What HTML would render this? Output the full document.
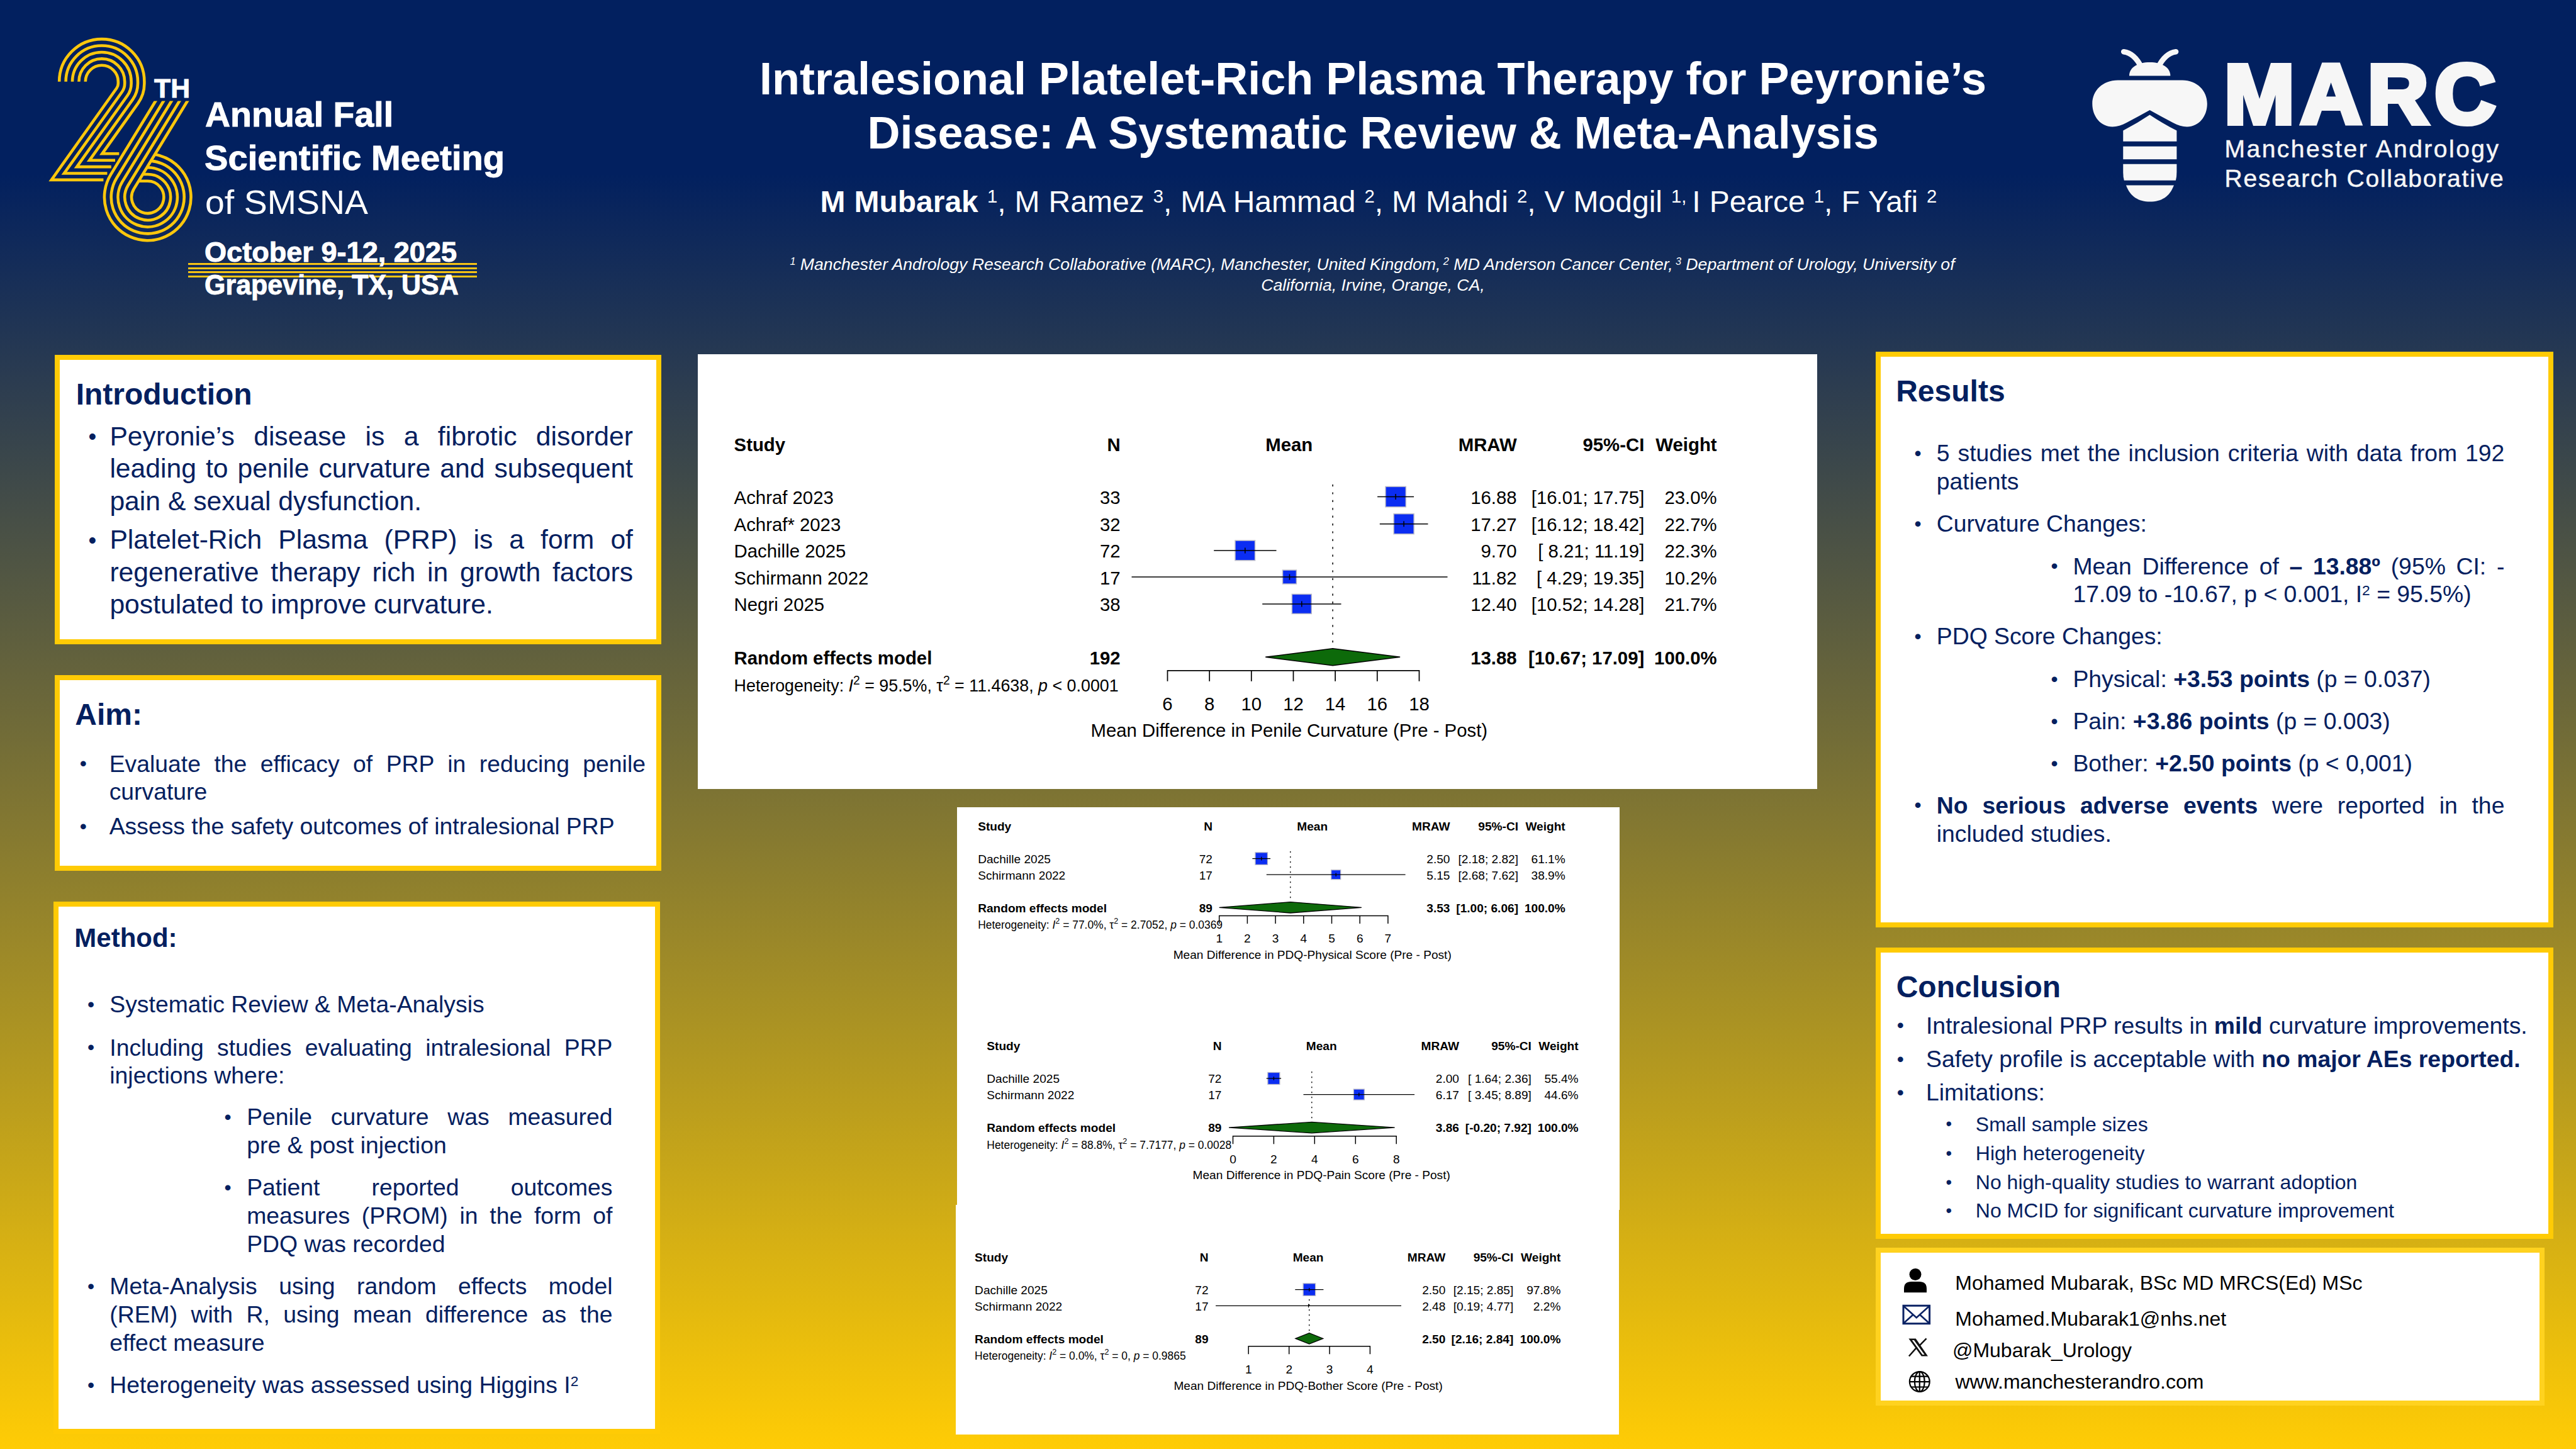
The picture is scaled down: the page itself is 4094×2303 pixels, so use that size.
<!DOCTYPE html>
<html lang="en"><head><meta charset="utf-8"><title>Intralesional Platelet-Rich Plasma Therapy for Peyronie’s Disease</title>
<style>
html,body{margin:0;padding:0;background:#02205f}
body{width:4094px;height:2303px;position:relative;overflow:hidden;font-family:"Liberation Sans",Arial,Helvetica,sans-serif}
.bg{position:absolute;left:0;top:0;width:4094px;height:2303px;background:linear-gradient(to bottom,#02205f 0px,#02205f 275px,#ffcc05 2303px)}
.t{position:absolute;white-space:nowrap;margin:0}
.sup{font-size:61%;position:relative;top:-0.5em;line-height:0;white-space:pre}
b{font-weight:700}
</style></head>
<body>
<div class="bg"></div>
<div style="position:absolute;left:87px;top:564px;width:948px;height:444px;border:8px solid #ffcb05;background:#fff"></div>
<div style="position:absolute;left:87px;top:1072.5px;width:948px;height:295px;border:8px solid #ffcb05;background:#fff"></div>
<div style="position:absolute;left:85px;top:1433px;width:948px;height:830px;border:8px solid #ffcb05;background:#fff"></div>
<div style="position:absolute;left:1109px;top:563px;width:1779px;height:691px;background:#fff"></div>
<div style="position:absolute;left:1520.5px;top:1282.5px;width:1053px;height:640px;background:#fff"></div>
<div style="position:absolute;left:1519px;top:1915px;width:1054px;height:365px;background:#fff"></div>
<div style="position:absolute;left:2981px;top:558.5px;width:1061px;height:899px;border:8px solid #ffcb05;background:#fff"></div>
<div style="position:absolute;left:2981px;top:1506px;width:1061px;height:447px;border:8px solid #ffcb05;background:#fff"></div>
<div style="position:absolute;left:2981px;top:1983px;width:1047px;height:235px;border:8px solid #ffd21f;background:#fff"></div>
<svg style="position:absolute;left:0;top:0" width="420" height="420" viewBox="0 0 420 420"><defs><clipPath id="c26"><rect x="0" y="0" width="420" height="129.6"/><rect x="0" y="129.6" width="240" height="32"/><rect x="0" y="160.4" width="420" height="260"/></clipPath></defs><g fill="none" stroke="#fdc70c" stroke-width="4.6" stroke-linejoin="miter" stroke-miterlimit="10" clip-path="url(#c26)"><path d="M135.80,129.75 A26.00,26.00 0 0 1 187.80,129.75 V132.75 A12.50,12.50 0 0 1 185.49,139.99 L81.80,285.90 L164.40,285.90"/><path d="M125.40,129.75 A36.40,36.40 0 0 1 198.20,129.75 V132.75 A22.90,22.90 0 0 1 193.97,146.02 L101.95,275.50 L170.40,275.50"/><path d="M115.00,129.75 A46.80,46.80 0 0 1 208.60,129.75 V132.75 A33.30,33.30 0 0 1 202.44,152.04 L122.10,265.10 L176.80,265.10"/><path d="M104.60,129.75 A57.20,57.20 0 0 1 219.00,129.75 V132.75 A43.70,43.70 0 0 1 210.92,158.06 L142.25,254.70 L183.00,254.70"/><path d="M94.20,129.75 A67.60,67.60 0 0 1 229.40,129.75 V132.75 A54.10,54.10 0 0 1 219.40,164.09 L162.40,244.30 L189.30,244.30"/><path d="M304.27,150.00 L212.84,300.08 A25.60,25.60 0 1 0 234.70,287.80 L220.32,287.80"/><path d="M291.62,150.00 L203.61,294.46 A36.40,36.40 0 1 0 234.70,277.00 L226.90,277.00"/><path d="M278.98,150.00 L194.39,288.84 A47.20,47.20 0 1 0 234.70,266.20 L233.48,266.20"/><path d="M266.33,150.00 L185.17,283.22 A58.00,58.00 0 1 0 239.91,255.63"/><path d="M253.68,150.00 L175.94,277.61 A68.80,68.80 0 1 0 246.06,245.54"/></g></svg>
<div style="position:absolute;left:298.9px;top:417.95px;width:458.8px;height:3.1px;background:#f7c414"></div>
<div style="position:absolute;left:298.9px;top:424.55px;width:458.8px;height:3.1px;background:#f7c414"></div>
<div style="position:absolute;left:298.9px;top:431.15px;width:458.8px;height:3.1px;background:#f7c414"></div>
<div style="position:absolute;left:298.9px;top:437.85px;width:458.8px;height:3.1px;background:#f7c414"></div>
<div class="t" style="left:244.5px;top:115.4px;font-size:42.5px;line-height:51.0px;color:#fff;font-weight:700;-webkit-text-stroke:0.9px #fff;transform:scaleX(1.007);transform-origin:0 0">TH</div>
<div class="t" style="left:326.0px;top:149.7px;font-size:54.7px;line-height:65.64px;color:#fff;font-weight:700;-webkit-text-stroke:0.9px #fff;transform:scaleX(1.015);transform-origin:0 0">Annual Fall</div>
<div class="t" style="left:324.5px;top:219.3px;font-size:54.7px;line-height:65.64px;color:#fff;font-weight:700;-webkit-text-stroke:0.9px #fff;transform:scaleX(1.026);transform-origin:0 0">Scientific Meeting</div>
<div class="t" style="left:325.5px;top:288.8px;font-size:54.5px;line-height:65.4px;color:#fff;font-weight:400;-webkit-text-stroke:0px #fff;transform:scaleX(1.018);transform-origin:0 0">of SMSNA</div>
<div class="t" style="left:325.0px;top:374.5px;font-size:44px;line-height:52.8px;color:#fff;font-weight:700;-webkit-text-stroke:0.9px #fff;transform:scaleX(1.025);transform-origin:0 0">October 9-12, 2025</div>
<div class="t" style="left:325.0px;top:426.7px;font-size:44px;line-height:52.8px;color:#fff;font-weight:700;-webkit-text-stroke:0.9px #fff;transform:scaleX(0.977);transform-origin:0 0">Grapevine, TX, USA</div>
<div class="t" style="left:1182.0px;top:82.2px;font-size:72.00px;line-height:86.4px;color:#fff;font-weight:700;width:2000.0px;text-align:center;">Intralesional Platelet-Rich Plasma Therapy for Peyronie’s</div>
<div class="t" style="left:1182.2px;top:168.1px;font-size:72.00px;line-height:86.4px;color:#fff;font-weight:700;width:2000.0px;text-align:center;">Disease: A Systematic Review &amp; Meta-Analysis</div>
<div class="t" style="left:1190.9px;top:291.6px;font-size:48.00px;line-height:57.6px;color:#fff;width:2000.0px;text-align:center;word-spacing:0.7px;"><b>M Mubarak</b> <span class="sup">1</span>, M Ramez <span class="sup">3</span>, MA Hammad <span class="sup">2</span>, M Mahdi <span class="sup">2</span>, V Modgil <span class="sup">1, </span>I Pearce <span class="sup">1</span>, F Yafi <span class="sup">2</span></div>
<div class="t" style="left:1181.0px;top:403.7px;font-size:26.67px;line-height:32.0px;color:#fff;font-style:italic;width:2000.0px;text-align:center;word-spacing:-0.1px;"><span class="sup">1</span> Manchester Andrology Research Collaborative (MARC), Manchester, United Kingdom,<span class="sup"> 2</span> MD Anderson Cancer Center,<span class="sup"> 3</span> Department of Urology, University of</div>
<div class="t" style="left:1182.0px;top:436.8px;font-size:26.67px;line-height:32.0px;color:#fff;font-style:italic;width:2000.0px;text-align:center;">California, Irvine, Orange, CA,</div>
<svg style="position:absolute;left:3310px;top:65px" width="220" height="270" viewBox="0 0 1181 1449">
<g fill="#f7f7f7">
<path d="M350,92 C420,102 470,160 502,228 M795,92 C725,102 675,160 643,228" fill="none" stroke="#f7f7f7" stroke-width="46" stroke-linecap="round"/>
<path d="M397,298 C397,225 470,182 572,182 C675,182 748,225 748,298 Z"/>
<path d="M300,335 H850 C975,335 1062,425 1062,535 C1062,645 990,732 890,732 C850,732 810,720 770,698 Q665,642 572,590 Q479,642 374,698 C334,720 294,732 254,732 C154,732 82,645 82,535 C82,425 169,335 300,335 Z"/>
<path d="M345,765 Q465,702 572,630 Q679,702 802,765 V857 H345 Z"/>
<rect x="345" y="900" width="457" height="110"/>
<path d="M345,1050 H802 V1120 Q802,1160 794,1190 H353 Q345,1160 345,1120 Z"/>
<path d="M370,1232 H778 C742,1330 670,1372 574,1372 C478,1372 406,1330 370,1232 Z"/>
</g></svg>
<svg style="position:absolute;left:3500px;top:60px" width="520" height="180" viewBox="0 0 520 180"><text x="35" y="135.5" font-family="Liberation Sans, Arial, sans-serif" font-weight="700" font-size="134" fill="#f6f6f6" stroke="#f6f6f6" stroke-width="8" stroke-linejoin="miter" stroke-miterlimit="2.2" letter-spacing="9.7">MARC</text></svg>
<div class="t" style="left:3535.5px;top:213.8px;font-size:39px;line-height:46px;color:#f6f6f6;letter-spacing:2.5px;-webkit-text-stroke:0.5px #f6f6f6">Manchester Andrology</div>
<div class="t" style="left:3535.5px;top:260.9px;font-size:39px;line-height:46px;color:#f6f6f6;letter-spacing:1.8px;-webkit-text-stroke:0.5px #f6f6f6">Research Collaborative</div>
<div class="t" style="left:120.7px;top:598.1px;font-size:48.00px;line-height:57.6px;color:#04205f;font-weight:700;">Introduction</div>
<div class="t" style="left:140.4px;top:668.2px;font-size:36.27px;line-height:51.2px;color:#04205f;">•</div>
<div class="t" style="left:174.4px;top:667.6px;font-size:42.67px;line-height:51.2px;color:#04205f;width:831.6px;text-align:justify;text-align-last:justify;white-space:normal;">Peyronie’s disease is a fibrotic disorder</div>
<div class="t" style="left:174.4px;top:719.4px;font-size:42.67px;line-height:51.2px;color:#04205f;width:831.6px;text-align:justify;text-align-last:justify;white-space:normal;">leading to penile curvature and subsequent</div>
<div class="t" style="left:174.4px;top:770.9px;font-size:42.67px;line-height:51.2px;color:#04205f;">pain &amp; sexual dysfunction.</div>
<div class="t" style="left:140.4px;top:832.9px;font-size:36.27px;line-height:51.2px;color:#04205f;">•</div>
<div class="t" style="left:174.4px;top:832.3px;font-size:42.67px;line-height:51.2px;color:#04205f;width:831.6px;text-align:justify;text-align-last:justify;white-space:normal;">Platelet-Rich Plasma (PRP) is a form of</div>
<div class="t" style="left:174.4px;top:883.9px;font-size:42.67px;line-height:51.2px;color:#04205f;width:831.6px;text-align:justify;text-align-last:justify;white-space:normal;">regenerative therapy rich in growth factors</div>
<div class="t" style="left:174.4px;top:934.9px;font-size:42.67px;line-height:51.2px;color:#04205f;">postulated to improve curvature.</div>
<div class="t" style="left:119.3px;top:1107.1px;font-size:48.00px;line-height:57.6px;color:#04205f;font-weight:700;">Aim:</div>
<div class="t" style="left:126.7px;top:1191.2px;font-size:31.73px;line-height:44.8px;color:#04205f;">•</div>
<div class="t" style="left:173.7px;top:1191.5px;font-size:37.33px;line-height:44.8px;color:#04205f;width:852.3px;text-align:justify;text-align-last:justify;white-space:normal;">Evaluate the efficacy of PRP in reducing penile</div>
<div class="t" style="left:173.7px;top:1236.1px;font-size:37.33px;line-height:44.8px;color:#04205f;">curvature</div>
<div class="t" style="left:126.7px;top:1290.6px;font-size:31.73px;line-height:44.8px;color:#04205f;">•</div>
<div class="t" style="left:173.7px;top:1290.9px;font-size:37.33px;line-height:44.8px;color:#04205f;">Assess the safety outcomes of intralesional PRP</div>
<div class="t" style="left:118.3px;top:1466.1px;font-size:42.00px;line-height:50.4px;color:#04205f;font-weight:700;">Method:</div>
<div class="t" style="left:139.1px;top:1573.9px;font-size:31.73px;line-height:44.8px;color:#04205f;">•</div>
<div class="t" style="left:174.3px;top:1574.2px;font-size:37.33px;line-height:44.8px;color:#04205f;">Systematic Review &amp; Meta-Analysis</div>
<div class="t" style="left:139.1px;top:1642.2px;font-size:31.73px;line-height:44.8px;color:#04205f;">•</div>
<div class="t" style="left:174.3px;top:1642.5px;font-size:37.33px;line-height:44.8px;color:#04205f;width:799.2px;text-align:justify;text-align-last:justify;white-space:normal;">Including studies evaluating intralesional PRP</div>
<div class="t" style="left:174.3px;top:1686.7px;font-size:37.33px;line-height:44.8px;color:#04205f;">injections where:</div>
<div class="t" style="left:356.4px;top:1752.8px;font-size:31.73px;line-height:44.8px;color:#04205f;">•</div>
<div class="t" style="left:392.2px;top:1753.1px;font-size:37.33px;line-height:44.8px;color:#04205f;width:581.3px;text-align:justify;text-align-last:justify;white-space:normal;">Penile curvature was measured</div>
<div class="t" style="left:392.2px;top:1797.5px;font-size:37.33px;line-height:44.8px;color:#04205f;">pre &amp; post injection</div>
<div class="t" style="left:356.4px;top:1864.8px;font-size:31.73px;line-height:44.8px;color:#04205f;">•</div>
<div class="t" style="left:392.2px;top:1865.1px;font-size:37.33px;line-height:44.8px;color:#04205f;width:581.3px;text-align:justify;text-align-last:justify;white-space:normal;">Patient reported outcomes</div>
<div class="t" style="left:392.2px;top:1909.5px;font-size:37.33px;line-height:44.8px;color:#04205f;width:581.3px;text-align:justify;text-align-last:justify;white-space:normal;">measures (PROM) in the form of</div>
<div class="t" style="left:392.2px;top:1954.5px;font-size:37.33px;line-height:44.8px;color:#04205f;">PDQ was recorded</div>
<div class="t" style="left:139.1px;top:2021.8px;font-size:31.73px;line-height:44.8px;color:#04205f;">•</div>
<div class="t" style="left:174.3px;top:2022.1px;font-size:37.33px;line-height:44.8px;color:#04205f;width:799.2px;text-align:justify;text-align-last:justify;white-space:normal;">Meta-Analysis using random effects model</div>
<div class="t" style="left:174.3px;top:2067.1px;font-size:37.33px;line-height:44.8px;color:#04205f;width:799.2px;text-align:justify;text-align-last:justify;white-space:normal;">(REM) with R, using mean difference as the</div>
<div class="t" style="left:174.3px;top:2111.5px;font-size:37.33px;line-height:44.8px;color:#04205f;">effect measure</div>
<div class="t" style="left:139.1px;top:2178.9px;font-size:31.73px;line-height:44.8px;color:#04205f;">•</div>
<div class="t" style="left:174.3px;top:2179.2px;font-size:37.33px;line-height:44.8px;color:#04205f;">Heterogeneity was assessed using Higgins I<span class="sup">2</span></div>
<div class="t" style="left:3013.2px;top:592.8px;font-size:48.00px;line-height:57.6px;color:#04205f;font-weight:700;">Results</div>
<div class="t" style="left:3042.4px;top:698.0px;font-size:31.73px;line-height:44.8px;color:#04205f;">•</div>
<div class="t" style="left:3077.8px;top:698.3px;font-size:37.33px;line-height:44.8px;color:#04205f;width:902.6px;text-align:justify;text-align-last:justify;white-space:normal;">5 studies met the inclusion criteria with data from 192</div>
<div class="t" style="left:3077.8px;top:743.2px;font-size:37.33px;line-height:44.8px;color:#04205f;">patients</div>
<div class="t" style="left:3042.4px;top:809.8px;font-size:31.73px;line-height:44.8px;color:#04205f;">•</div>
<div class="t" style="left:3077.8px;top:810.1px;font-size:37.33px;line-height:44.8px;color:#04205f;">Curvature Changes:</div>
<div class="t" style="left:3259.4px;top:877.2px;font-size:31.73px;line-height:44.8px;color:#04205f;">•</div>
<div class="t" style="left:3294.4px;top:877.5px;font-size:37.33px;line-height:44.8px;color:#04205f;width:686.0px;text-align:justify;text-align-last:justify;white-space:normal;">Mean Difference of <b>– 13.88º</b> (95% CI: -</div>
<div class="t" style="left:3294.4px;top:922.4px;font-size:37.33px;line-height:44.8px;color:#04205f;">17.09 to -10.67, p &lt; 0.001, I<span class="sup">2</span> = 95.5%)</div>
<div class="t" style="left:3042.4px;top:988.6px;font-size:31.73px;line-height:44.8px;color:#04205f;">•</div>
<div class="t" style="left:3077.8px;top:988.9px;font-size:37.33px;line-height:44.8px;color:#04205f;">PDQ Score Changes:</div>
<div class="t" style="left:3259.4px;top:1056.5px;font-size:31.73px;line-height:44.8px;color:#04205f;">•</div>
<div class="t" style="left:3294.4px;top:1056.8px;font-size:37.33px;line-height:44.8px;color:#04205f;">Physical: <b>+3.53 points</b> (p = 0.037)</div>
<div class="t" style="left:3259.4px;top:1123.9px;font-size:31.73px;line-height:44.8px;color:#04205f;">•</div>
<div class="t" style="left:3294.4px;top:1124.2px;font-size:37.33px;line-height:44.8px;color:#04205f;">Pain: <b>+3.86 points</b> (p = 0.003)</div>
<div class="t" style="left:3259.4px;top:1190.8px;font-size:31.73px;line-height:44.8px;color:#04205f;">•</div>
<div class="t" style="left:3294.4px;top:1191.1px;font-size:37.33px;line-height:44.8px;color:#04205f;">Bother: <b>+2.50 points</b> (p &lt; 0,001)</div>
<div class="t" style="left:3042.4px;top:1257.2px;font-size:31.73px;line-height:44.8px;color:#04205f;">•</div>
<div class="t" style="left:3077.8px;top:1257.5px;font-size:37.33px;line-height:44.8px;color:#04205f;width:902.6px;text-align:justify;text-align-last:justify;white-space:normal;"><b>No serious adverse events</b> were reported in the</div>
<div class="t" style="left:3077.8px;top:1302.5px;font-size:37.33px;line-height:44.8px;color:#04205f;">included studies.</div>
<div class="t" style="left:3013.7px;top:1540.0px;font-size:48.00px;line-height:57.6px;color:#04205f;font-weight:700;">Conclusion</div>
<div class="t" style="left:3014.7px;top:1607.2px;font-size:31.73px;line-height:44.8px;color:#04205f;">•</div>
<div class="t" style="left:3061.0px;top:1607.5px;font-size:37.33px;line-height:44.8px;color:#04205f;">Intralesional PRP results in <b>mild</b> curvature improvements.</div>
<div class="t" style="left:3014.7px;top:1660.9px;font-size:31.73px;line-height:44.8px;color:#04205f;">•</div>
<div class="t" style="left:3061.0px;top:1661.2px;font-size:37.33px;line-height:44.8px;color:#04205f;">Safety profile is acceptable with <b>no major AEs reported.</b></div>
<div class="t" style="left:3014.7px;top:1713.7px;font-size:31.73px;line-height:44.8px;color:#04205f;">•</div>
<div class="t" style="left:3061.0px;top:1714.0px;font-size:37.33px;line-height:44.8px;color:#04205f;">Limitations:</div>
<div class="t" style="left:3092.5px;top:1767.3px;font-size:27.20px;line-height:38.4px;color:#04205f;">•</div>
<div class="t" style="left:3139.8px;top:1767.5px;font-size:32.00px;line-height:38.4px;color:#04205f;">Small sample sizes</div>
<div class="t" style="left:3092.5px;top:1813.5px;font-size:27.20px;line-height:38.4px;color:#04205f;">•</div>
<div class="t" style="left:3139.8px;top:1813.7px;font-size:32.00px;line-height:38.4px;color:#04205f;">High heterogeneity</div>
<div class="t" style="left:3092.5px;top:1859.7px;font-size:27.20px;line-height:38.4px;color:#04205f;">•</div>
<div class="t" style="left:3139.8px;top:1859.9px;font-size:32.00px;line-height:38.4px;color:#04205f;">No high-quality studies to warrant adoption</div>
<div class="t" style="left:3092.5px;top:1905.0px;font-size:27.20px;line-height:38.4px;color:#04205f;">•</div>
<div class="t" style="left:3139.8px;top:1905.2px;font-size:32.00px;line-height:38.4px;color:#04205f;">No MCID for significant curvature improvement</div>
<div class="t" style="left:3107.3px;top:2019.6px;font-size:32.00px;line-height:38.4px;color:#000;">Mohamed Mubarak, BSc MD MRCS(Ed) MSc</div>
<div class="t" style="left:3107.3px;top:2076.6px;font-size:32.00px;line-height:38.4px;color:#000;">Mohamed.Mubarak1@nhs.net</div>
<div class="t" style="left:3102.9px;top:2126.6px;font-size:32.00px;line-height:38.4px;color:#000;">@Mubarak_Urology</div>
<div class="t" style="left:3107.5px;top:2176.8px;font-size:32.00px;line-height:38.4px;color:#000;">www.manchesterandro.com</div>
<svg style="position:absolute;left:3020px;top:2010px" width="60" height="210" viewBox="0 0 60 210">
<circle cx="24" cy="15.5" r="9.5" fill="#000"/><path d="M6,44.3 V38 Q6,27 18,27 H30 Q42,27 42,38 V44.3 Z" fill="#000"/>
<rect x="5" y="65.2" width="41.6" height="28.5" fill="#fff" stroke="#0a2264" stroke-width="3"/><path d="M5.5,66 L25.8,84.3 L46,66 M5.5,93 L20.5,79.5 M46,93 L31.1,79.5" fill="none" stroke="#0a2264" stroke-width="2.6"/>
<path d="M13.4,117.4 H24.7 L44,145.5 H33.8 Z M18.8,120.1 L35.4,142.9 H38.6 L21.9,120.1 Z" fill="#111" fill-rule="evenodd"/><path d="M13.9,145.5 L26.6,131.2 M30.6,128.6 L41.6,117.4" stroke="#111" stroke-width="2.5" fill="none"/>
<g fill="none" stroke="#000" stroke-width="2.2"><circle cx="30.8" cy="186.1" r="15.9"/><ellipse cx="30.8" cy="186.1" rx="7.9" ry="15.9"/><path d="M30.8,170.2 V202 M14.9,186.1 H46.7 M17.3,177.7 H44.3 M17.3,194.5 H44.3"/></g>
</svg>
<svg style="position:absolute;left:0;top:0" width="4094" height="2303" viewBox="0 0 4094 2303" font-family="Liberation Sans, Arial, Helvetica, sans-serif"><g font-size="29.35" fill="#000"><text x="1166.6" y="717.0" text-anchor="start" font-weight="bold">Study</text><text x="1780.6" y="717.0" text-anchor="end" font-weight="bold">N</text><text x="2048.8" y="717.0" text-anchor="middle" font-weight="bold">Mean</text><text x="2410.6" y="717.0" text-anchor="end" font-weight="bold">MRAW</text><text x="2613.3" y="717.0" text-anchor="end" font-weight="bold">95%-CI</text><text x="2728.6" y="717.0" text-anchor="end" font-weight="bold">Weight</text><line x1="2118.1" y1="770.0" x2="2118.1" y2="1044.3" stroke="#000" stroke-width="1.5" stroke-dasharray="3.2 9.2"/><text x="1166.6" y="801.0" text-anchor="start">Achraf 2023</text><text x="1780.6" y="801.0" text-anchor="end">33</text><text x="2410.6" y="801.0" text-anchor="end">16.88</text><text x="2613.3" y="801.0" text-anchor="end" xml:space="preserve">[16.01; 17.75]</text><text x="2728.6" y="801.0" text-anchor="end">23.0%</text><rect x="2202.0" y="773.4" width="32.3" height="32.3" fill="#0b2df2" stroke="#b9b9c8" stroke-width="1.5"/><line x1="2189.1" y1="789.5" x2="2247.1" y2="789.5" stroke="#000" stroke-width="1.5"/><line x1="2218.1" y1="785.0" x2="2218.1" y2="794.0" stroke="#000" stroke-width="1.5"/><text x="1166.6" y="844.2" text-anchor="start">Achraf* 2023</text><text x="1780.6" y="844.2" text-anchor="end">32</text><text x="2410.6" y="844.2" text-anchor="end">17.27</text><text x="2613.3" y="844.2" text-anchor="end" xml:space="preserve">[16.12; 18.42]</text><text x="2728.6" y="844.2" text-anchor="end">22.7%</text><rect x="2215.1" y="816.7" width="32.0" height="32.0" fill="#0b2df2" stroke="#b9b9c8" stroke-width="1.5"/><line x1="2192.8" y1="832.7" x2="2269.5" y2="832.7" stroke="#000" stroke-width="1.5"/><line x1="2231.1" y1="828.2" x2="2231.1" y2="837.2" stroke="#000" stroke-width="1.5"/><text x="1166.6" y="886.4" text-anchor="start">Dachille 2025</text><text x="1780.6" y="886.4" text-anchor="end">72</text><text x="2410.6" y="886.4" text-anchor="end">9.70</text><text x="2613.3" y="886.4" text-anchor="end" xml:space="preserve">[ 8.21; 11.19]</text><text x="2728.6" y="886.4" text-anchor="end">22.3%</text><rect x="1963.0" y="859.1" width="31.6" height="31.6" fill="#0b2df2" stroke="#b9b9c8" stroke-width="1.5"/><line x1="1929.2" y1="874.9" x2="2028.5" y2="874.9" stroke="#000" stroke-width="1.5"/><line x1="1978.8" y1="870.4" x2="1978.8" y2="879.4" stroke="#000" stroke-width="1.5"/><text x="1166.6" y="928.6" text-anchor="start">Schirmann 2022</text><text x="1780.6" y="928.6" text-anchor="end">17</text><text x="2410.6" y="928.6" text-anchor="end">11.82</text><text x="2613.3" y="928.6" text-anchor="end" xml:space="preserve">[ 4.29; 19.35]</text><text x="2728.6" y="928.6" text-anchor="end">10.2%</text><rect x="2038.5" y="906.1" width="21.9" height="21.9" fill="#0b2df2" stroke="#b9b9c8" stroke-width="1.5"/><line x1="1798.5" y1="917.1" x2="2300.5" y2="917.1" stroke="#000" stroke-width="1.5"/><line x1="2049.5" y1="912.6" x2="2049.5" y2="921.6" stroke="#000" stroke-width="1.5"/><text x="1166.6" y="971.4" text-anchor="start">Negri 2025</text><text x="1780.6" y="971.4" text-anchor="end">38</text><text x="2410.6" y="971.4" text-anchor="end">12.40</text><text x="2613.3" y="971.4" text-anchor="end" xml:space="preserve">[10.52; 14.28]</text><text x="2728.6" y="971.4" text-anchor="end">21.7%</text><rect x="2053.3" y="944.4" width="31.0" height="31.0" fill="#0b2df2" stroke="#b9b9c8" stroke-width="1.5"/><line x1="2006.2" y1="959.9" x2="2131.5" y2="959.9" stroke="#000" stroke-width="1.5"/><line x1="2068.8" y1="955.4" x2="2068.8" y2="964.4" stroke="#000" stroke-width="1.5"/><text x="1166.6" y="1055.8" text-anchor="start" font-weight="bold">Random effects model</text><text x="1780.6" y="1055.8" text-anchor="end" font-weight="bold">192</text><text x="2410.6" y="1055.8" text-anchor="end" font-weight="bold">13.88</text><text x="2613.3" y="1055.8" text-anchor="end" font-weight="bold">[10.67; 17.09]</text><text x="2728.6" y="1055.8" text-anchor="end" font-weight="bold">100.0%</text><polygon points="2011.2,1044.3 2118.1,1030.8 2225.1,1044.3 2118.1,1057.8" fill="#0d6a0a" stroke="#000" stroke-width="1.5" stroke-linejoin="miter"/><text x="1166.6" y="1099.0" font-size="26.83">Heterogeneity: <tspan font-style="italic">I</tspan><tspan dy="-11.27" font-size="19.31">2</tspan><tspan dy="11.27"> = 95.5%, τ</tspan><tspan dy="-11.27" font-size="19.31">2</tspan><tspan dy="11.27"> = 11.4638, </tspan><tspan font-style="italic">p</tspan> &lt; 0.0001</text><path d="M1855.5,1082.8 V1065.8 H2255.5 V1082.8" fill="none" stroke="#000" stroke-width="1.72"/><line x1="1922.2" y1="1065.8" x2="1922.2" y2="1082.8" stroke="#000" stroke-width="1.72"/><line x1="1988.8" y1="1065.8" x2="1988.8" y2="1082.8" stroke="#000" stroke-width="1.72"/><line x1="2055.5" y1="1065.8" x2="2055.5" y2="1082.8" stroke="#000" stroke-width="1.72"/><line x1="2122.1" y1="1065.8" x2="2122.1" y2="1082.8" stroke="#000" stroke-width="1.72"/><line x1="2188.8" y1="1065.8" x2="2188.8" y2="1082.8" stroke="#000" stroke-width="1.72"/><text x="1855.5" y="1129.0" text-anchor="middle">6</text><text x="1922.2" y="1129.0" text-anchor="middle">8</text><text x="1988.8" y="1129.0" text-anchor="middle">10</text><text x="2055.5" y="1129.0" text-anchor="middle">12</text><text x="2122.1" y="1129.0" text-anchor="middle">14</text><text x="2188.8" y="1129.0" text-anchor="middle">16</text><text x="2255.5" y="1129.0" text-anchor="middle">18</text><text x="2048.8" y="1171.0" text-anchor="middle">Mean Difference in Penile Curvature (Pre - Post)</text></g><g font-size="19.10" fill="#000"><text x="1554.2" y="1319.8" text-anchor="start" font-weight="bold">Study</text><text x="1927.0" y="1319.8" text-anchor="end" font-weight="bold">N</text><text x="2085.7" y="1319.8" text-anchor="middle" font-weight="bold">Mean</text><text x="2304.5" y="1319.8" text-anchor="end" font-weight="bold">MRAW</text><text x="2413.0" y="1319.8" text-anchor="end" font-weight="bold">95%-CI</text><text x="2487.7" y="1319.8" text-anchor="end" font-weight="bold">Weight</text><line x1="2050.8" y1="1353.0" x2="2050.8" y2="1442.3" stroke="#000" stroke-width="1.3" stroke-dasharray="2.2 5.8"/><text x="1554.2" y="1371.9" text-anchor="start">Dachille 2025</text><text x="1927.0" y="1371.9" text-anchor="end">72</text><text x="2304.5" y="1371.9" text-anchor="end">2.50</text><text x="2413.0" y="1371.9" text-anchor="end" xml:space="preserve">[2.18; 2.82]</text><text x="2487.7" y="1371.9" text-anchor="end">61.1%</text><rect x="1995.0" y="1354.9" width="19.5" height="19.5" fill="#0b2df2" stroke="#b9b9c8" stroke-width="1.3"/><line x1="1990.4" y1="1364.6" x2="2019.1" y2="1364.6" stroke="#000" stroke-width="1.3"/><line x1="2004.8" y1="1361.8" x2="2004.8" y2="1367.4" stroke="#000" stroke-width="1.3"/><text x="1554.2" y="1397.5" text-anchor="start">Schirmann 2022</text><text x="1927.0" y="1397.5" text-anchor="end">17</text><text x="2304.5" y="1397.5" text-anchor="end">5.15</text><text x="2413.0" y="1397.5" text-anchor="end" xml:space="preserve">[2.68; 7.62]</text><text x="2487.7" y="1397.5" text-anchor="end">38.9%</text><rect x="2115.7" y="1382.7" width="15.0" height="15.0" fill="#0b2df2" stroke="#b9b9c8" stroke-width="1.3"/><line x1="2012.8" y1="1390.2" x2="2233.6" y2="1390.2" stroke="#000" stroke-width="1.3"/><line x1="2123.2" y1="1387.4" x2="2123.2" y2="1393.0" stroke="#000" stroke-width="1.3"/><text x="1554.2" y="1449.6" text-anchor="start" font-weight="bold">Random effects model</text><text x="1927.0" y="1449.6" text-anchor="end" font-weight="bold">89</text><text x="2304.5" y="1449.6" text-anchor="end" font-weight="bold">3.53</text><text x="2413.0" y="1449.6" text-anchor="end" font-weight="bold">[1.00; 6.06]</text><text x="2487.7" y="1449.6" text-anchor="end" font-weight="bold">100.0%</text><polygon points="1937.7,1442.3 2050.8,1433.6 2163.9,1442.3 2050.8,1451.0" fill="#0d6a0a" stroke="#000" stroke-width="1.3" stroke-linejoin="miter"/><text x="1554.2" y="1475.6" font-size="17.46">Heterogeneity: <tspan font-style="italic">I</tspan><tspan dy="-7.33" font-size="12.57">2</tspan><tspan dy="7.33"> = 77.0%, τ</tspan><tspan dy="-7.33" font-size="12.57">2</tspan><tspan dy="7.33"> = 2.7052, </tspan><tspan font-style="italic">p</tspan> = 0.0369</text><path d="M1937.7,1468.1 V1455.6 H2205.9 V1468.1" fill="none" stroke="#000" stroke-width="1.49"/><line x1="1982.4" y1="1455.6" x2="1982.4" y2="1468.1" stroke="#000" stroke-width="1.49"/><line x1="2027.1" y1="1455.6" x2="2027.1" y2="1468.1" stroke="#000" stroke-width="1.49"/><line x1="2071.8" y1="1455.6" x2="2071.8" y2="1468.1" stroke="#000" stroke-width="1.49"/><line x1="2116.5" y1="1455.6" x2="2116.5" y2="1468.1" stroke="#000" stroke-width="1.49"/><line x1="2161.2" y1="1455.6" x2="2161.2" y2="1468.1" stroke="#000" stroke-width="1.49"/><text x="1937.7" y="1498.3" text-anchor="middle">1</text><text x="1982.4" y="1498.3" text-anchor="middle">2</text><text x="2027.1" y="1498.3" text-anchor="middle">3</text><text x="2071.8" y="1498.3" text-anchor="middle">4</text><text x="2116.5" y="1498.3" text-anchor="middle">5</text><text x="2161.2" y="1498.3" text-anchor="middle">6</text><text x="2205.9" y="1498.3" text-anchor="middle">7</text><text x="2085.7" y="1523.9" text-anchor="middle">Mean Difference in PDQ-Physical Score (Pre - Post)</text></g><g font-size="19.10" fill="#000"><text x="1568.3" y="1669.2" text-anchor="start" font-weight="bold">Study</text><text x="1941.5" y="1669.2" text-anchor="end" font-weight="bold">N</text><text x="2100.2" y="1669.2" text-anchor="middle" font-weight="bold">Mean</text><text x="2319.0" y="1669.2" text-anchor="end" font-weight="bold">MRAW</text><text x="2433.9" y="1669.2" text-anchor="end" font-weight="bold">95%-CI</text><text x="2508.6" y="1669.2" text-anchor="end" font-weight="bold">Weight</text><line x1="2084.8" y1="1703.0" x2="2084.8" y2="1792.1" stroke="#000" stroke-width="1.3" stroke-dasharray="2.2 5.8"/><text x="1568.3" y="1721.3" text-anchor="start">Dachille 2025</text><text x="1941.5" y="1721.3" text-anchor="end">72</text><text x="2319.0" y="1721.3" text-anchor="end">2.00</text><text x="2433.9" y="1721.3" text-anchor="end" xml:space="preserve">[ 1.64; 2.36]</text><text x="2508.6" y="1721.3" text-anchor="end">55.4%</text><rect x="2014.9" y="1704.5" width="19.0" height="19.0" fill="#0b2df2" stroke="#b9b9c8" stroke-width="1.3"/><line x1="2012.7" y1="1714.0" x2="2036.1" y2="1714.0" stroke="#000" stroke-width="1.3"/><line x1="2024.4" y1="1711.2" x2="2024.4" y2="1716.8" stroke="#000" stroke-width="1.3"/><text x="1568.3" y="1746.9" text-anchor="start">Schirmann 2022</text><text x="1941.5" y="1746.9" text-anchor="end">17</text><text x="2319.0" y="1746.9" text-anchor="end">6.17</text><text x="2433.9" y="1746.9" text-anchor="end" xml:space="preserve">[ 3.45; 8.89]</text><text x="2508.6" y="1746.9" text-anchor="end">44.6%</text><rect x="2151.3" y="1731.1" width="17.0" height="17.0" fill="#0b2df2" stroke="#b9b9c8" stroke-width="1.3"/><line x1="2071.5" y1="1739.6" x2="2248.1" y2="1739.6" stroke="#000" stroke-width="1.3"/><line x1="2159.8" y1="1736.8" x2="2159.8" y2="1742.4" stroke="#000" stroke-width="1.3"/><text x="1568.3" y="1799.4" text-anchor="start" font-weight="bold">Random effects model</text><text x="1941.5" y="1799.4" text-anchor="end" font-weight="bold">89</text><text x="2319.0" y="1799.4" text-anchor="end" font-weight="bold">3.86</text><text x="2433.9" y="1799.4" text-anchor="end" font-weight="bold">[-0.20; 7.92]</text><text x="2508.6" y="1799.4" text-anchor="end" font-weight="bold">100.0%</text><polygon points="1953.0,1792.1 2084.8,1783.4 2216.6,1792.1 2084.8,1800.8" fill="#0d6a0a" stroke="#000" stroke-width="1.3" stroke-linejoin="miter"/><text x="1568.3" y="1825.5" font-size="17.46">Heterogeneity: <tspan font-style="italic">I</tspan><tspan dy="-7.33" font-size="12.57">2</tspan><tspan dy="7.33"> = 88.8%, τ</tspan><tspan dy="-7.33" font-size="12.57">2</tspan><tspan dy="7.33"> = 7.7177, </tspan><tspan font-style="italic">p</tspan> = 0.0028</text><path d="M1959.5,1818.3 V1805.8 H2219.2 V1818.3" fill="none" stroke="#000" stroke-width="1.49"/><line x1="2024.4" y1="1805.8" x2="2024.4" y2="1818.3" stroke="#000" stroke-width="1.49"/><line x1="2089.3" y1="1805.8" x2="2089.3" y2="1818.3" stroke="#000" stroke-width="1.49"/><line x1="2154.3" y1="1805.8" x2="2154.3" y2="1818.3" stroke="#000" stroke-width="1.49"/><text x="1959.5" y="1848.5" text-anchor="middle">0</text><text x="2024.4" y="1848.5" text-anchor="middle">2</text><text x="2089.3" y="1848.5" text-anchor="middle">4</text><text x="2154.3" y="1848.5" text-anchor="middle">6</text><text x="2219.2" y="1848.5" text-anchor="middle">8</text><text x="2100.2" y="1874.1" text-anchor="middle">Mean Difference in PDQ-Pain Score (Pre - Post)</text></g><g font-size="19.10" fill="#000"><text x="1549.1" y="2004.9" text-anchor="start" font-weight="bold">Study</text><text x="1920.6" y="2004.9" text-anchor="end" font-weight="bold">N</text><text x="2079.1" y="2004.9" text-anchor="middle" font-weight="bold">Mean</text><text x="2297.3" y="2004.9" text-anchor="end" font-weight="bold">MRAW</text><text x="2405.3" y="2004.9" text-anchor="end" font-weight="bold">95%-CI</text><text x="2480.4" y="2004.9" text-anchor="end" font-weight="bold">Weight</text><line x1="2080.8" y1="2057.0" x2="2080.8" y2="2127.4" stroke="#000" stroke-width="1.3" stroke-dasharray="2.2 5.8"/><text x="1549.1" y="2057.0" text-anchor="start">Dachille 2025</text><text x="1920.6" y="2057.0" text-anchor="end">72</text><text x="2297.3" y="2057.0" text-anchor="end">2.50</text><text x="2405.3" y="2057.0" text-anchor="end" xml:space="preserve">[2.15; 2.85]</text><text x="2480.4" y="2057.0" text-anchor="end">97.8%</text><rect x="2071.1" y="2039.9" width="19.5" height="19.5" fill="#0b2df2" stroke="#b9b9c8" stroke-width="1.3"/><line x1="2058.3" y1="2049.7" x2="2103.4" y2="2049.7" stroke="#000" stroke-width="1.3"/><line x1="2080.8" y1="2046.9" x2="2080.8" y2="2052.5" stroke="#000" stroke-width="1.3"/><text x="1549.1" y="2082.6" text-anchor="start">Schirmann 2022</text><text x="1920.6" y="2082.6" text-anchor="end">17</text><text x="2297.3" y="2082.6" text-anchor="end">2.48</text><text x="2405.3" y="2082.6" text-anchor="end" xml:space="preserve">[0.19; 4.77]</text><text x="2480.4" y="2082.6" text-anchor="end">2.2%</text><line x1="1932.1" y1="2075.3" x2="2227.0" y2="2075.3" stroke="#000" stroke-width="1.3"/><line x1="2079.6" y1="2072.5" x2="2079.6" y2="2078.1" stroke="#000" stroke-width="1.3"/><text x="1549.1" y="2134.7" text-anchor="start" font-weight="bold">Random effects model</text><text x="1920.6" y="2134.7" text-anchor="end" font-weight="bold">89</text><text x="2297.3" y="2134.7" text-anchor="end" font-weight="bold">2.50</text><text x="2405.3" y="2134.7" text-anchor="end" font-weight="bold">[2.16; 2.84]</text><text x="2480.4" y="2134.7" text-anchor="end" font-weight="bold">100.0%</text><polygon points="2059.0,2127.4 2080.8,2118.7 2102.7,2127.4 2080.8,2136.1" fill="#0d6a0a" stroke="#000" stroke-width="1.3" stroke-linejoin="miter"/><text x="1549.1" y="2160.8" font-size="17.46">Heterogeneity: <tspan font-style="italic">I</tspan><tspan dy="-7.33" font-size="12.57">2</tspan><tspan dy="7.33"> = 0.0%, τ</tspan><tspan dy="-7.33" font-size="12.57">2</tspan><tspan dy="7.33"> = 0, </tspan><tspan font-style="italic">p</tspan> = 0.9865</text><path d="M1984.2,2152.3 V2139.8 H2177.4 V2152.3" fill="none" stroke="#000" stroke-width="1.49"/><line x1="2048.7" y1="2139.8" x2="2048.7" y2="2152.3" stroke="#000" stroke-width="1.49"/><line x1="2113.1" y1="2139.8" x2="2113.1" y2="2152.3" stroke="#000" stroke-width="1.49"/><text x="1984.2" y="2183.4" text-anchor="middle">1</text><text x="2048.7" y="2183.4" text-anchor="middle">2</text><text x="2113.1" y="2183.4" text-anchor="middle">3</text><text x="2177.4" y="2183.4" text-anchor="middle">4</text><text x="2079.1" y="2209.0" text-anchor="middle">Mean Difference in PDQ-Bother Score (Pre - Post)</text></g></svg>
</body></html>
